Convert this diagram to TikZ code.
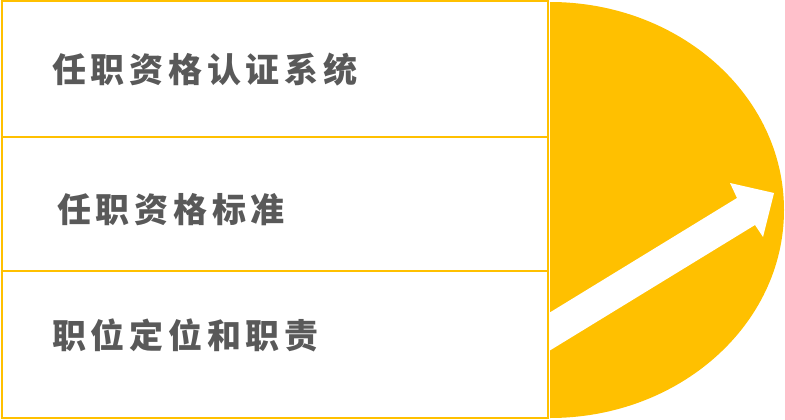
\documentclass[tikz,border=0pt]{standalone}
\usepackage{fontspec}
\newfontfamily\cjk[LetterSpace=14]{Noto Sans CJK SC}
\definecolor{gold}{HTML}{FFC000}
\definecolor{txtgray}{HTML}{595959}
\begin{document}
\begin{tikzpicture}
  [x=1pt,y=-1pt,every node/.style={anchor=west,inner sep=0pt,text=txtgray,font=\cjk\bfseries\fontsize{34}{38}\selectfont}]
\useasboundingbox (0,0) rectangle (785,420);
\foreach \top/\bot in {1/137,137/271,271/418}
  \draw[gold,line width=2.2pt] (2,\top) rectangle (548,\bot);
\fill[gold] (550,2) arc[start angle=-90,end angle=90,x radius=234,y radius=208] -- cycle;
\fill[white] (549,313) -- (737,198) -- (730,183) -- (774,193)
  -- (763,237) -- (755,225) -- (549,351) -- cycle;
\node (sys) at (52,70) {任职资格认证系统};
  \node (std) at (57,210) {任职资格标准};
  \node (pos) at (52,335) {职位定位和职责};
\end{tikzpicture}
\end{document}
